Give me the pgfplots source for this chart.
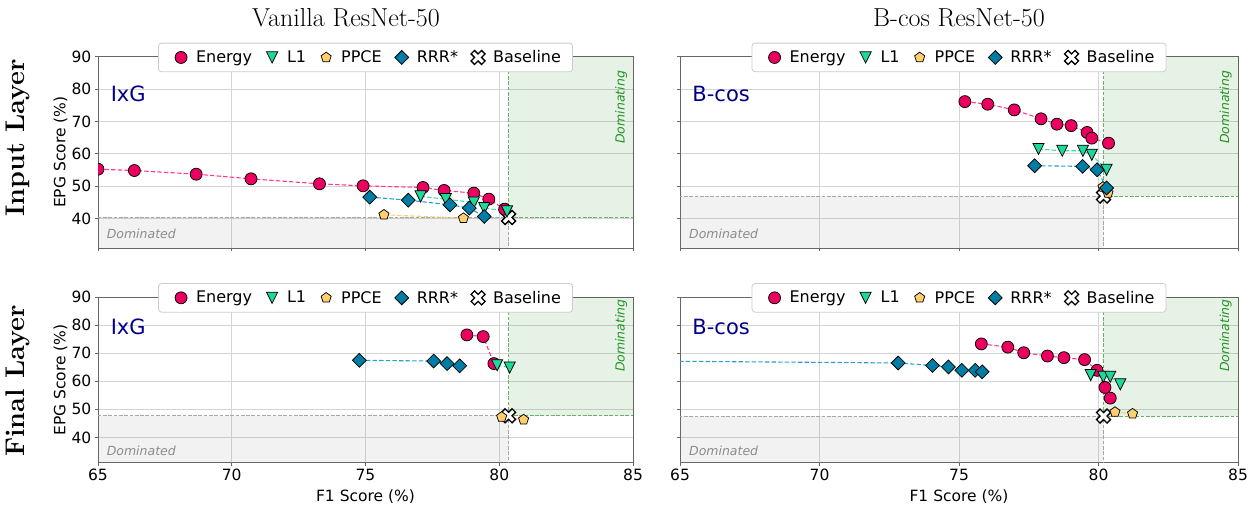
\documentclass[border=0pt]{standalone}
\usepackage{fontspec}
\usepackage{pgfplots}
\usepackage{pgfplotstable}
\pgfplotsset{compat=1.18}
\newfontfamily\dejavu{DejaVu Sans}
\definecolor{cEn}{RGB}{235,0,95}
\definecolor{cEnL}{RGB}{255,60,140}
\definecolor{cL1}{RGB}{30,215,155}
\definecolor{cL1L}{RGB}{60,220,170}
\definecolor{cPP}{RGB}{255,208,110}
\definecolor{cPPL}{RGB}{255,205,115}
\definecolor{cRR}{RGB}{0,125,165}
\definecolor{cRRL}{RGB}{40,160,205}
\definecolor{mgreen}{RGB}{0,128,0}
\definecolor{mgray}{RGB}{128,128,128}
\definecolor{navyc}{RGB}{0,0,139}

\pgfdeclareplotmark{tridown}{%
  \pgfpathmoveto{\pgfqpoint{0pt}{-\pgfplotmarksize}}%
  \pgfpathlineto{\pgfqpoint{-\pgfplotmarksize}{\pgfplotmarksize}}%
  \pgfpathlineto{\pgfqpoint{\pgfplotmarksize}{\pgfplotmarksize}}%
  \pgfpathclose
  \pgfusepathqfillstroke}
\pgfdeclareplotmark{fatx}{%
  \pgfpathmoveto{\pgfqpoint{-.5\pgfplotmarksize}{-\pgfplotmarksize}}%
  \pgfpathlineto{\pgfqpoint{0pt}{-.5\pgfplotmarksize}}%
  \pgfpathlineto{\pgfqpoint{.5\pgfplotmarksize}{-\pgfplotmarksize}}%
  \pgfpathlineto{\pgfqpoint{\pgfplotmarksize}{-.5\pgfplotmarksize}}%
  \pgfpathlineto{\pgfqpoint{.5\pgfplotmarksize}{0pt}}%
  \pgfpathlineto{\pgfqpoint{\pgfplotmarksize}{.5\pgfplotmarksize}}%
  \pgfpathlineto{\pgfqpoint{.5\pgfplotmarksize}{\pgfplotmarksize}}%
  \pgfpathlineto{\pgfqpoint{0pt}{.5\pgfplotmarksize}}%
  \pgfpathlineto{\pgfqpoint{-.5\pgfplotmarksize}{\pgfplotmarksize}}%
  \pgfpathlineto{\pgfqpoint{-\pgfplotmarksize}{.5\pgfplotmarksize}}%
  \pgfpathlineto{\pgfqpoint{-.5\pgfplotmarksize}{0pt}}%
  \pgfpathlineto{\pgfqpoint{-\pgfplotmarksize}{-.5\pgfplotmarksize}}%
  \pgfpathclose
  \pgfusepathqfillstroke}

% ---------- data: Vanilla ResNet-50, input layer ----------
\pgfplotstableread{
x y
65.00 55.28
66.36 54.87
68.67 53.74
70.72 52.31
73.28 50.77
74.91 50.15
77.15 49.64
77.94 48.72
79.05 47.90
79.61 46.05
80.20 42.97
}\tlE
\pgfplotstableread{
x y
77.06 46.90
78.00 46.05
79.05 45.00
79.44 43.30
80.29 42.26
}\tlL
\pgfplotstableread{
x y
75.69 41.23
78.66 40.20
}\tlP
\pgfplotstableread{
x y
75.16 46.67
76.60 45.74
78.16 44.30
78.88 43.30
79.44 40.70
}\tlR
\pgfplotstableread{
x y
80.35 40.40
}\tlB
% ---------- data: B-cos ResNet-50, input layer ----------
\pgfplotstableread{
x y
75.21 76.10
76.03 75.30
76.98 73.55
77.94 70.80
78.51 69.15
79.02 68.70
79.59 66.60
79.76 64.85
80.36 63.30
}\trE
\pgfplotstableread{
x y
77.85 61.50
78.70 60.95
79.44 60.95
79.76 59.70
80.29 55.10
}\trL
\pgfplotstableread{
x y
80.16 49.80
80.34 47.95
}\trP
\pgfplotstableread{
x y
77.71 56.35
79.43 56.15
79.95 55.10
80.29 49.50
}\trR
\pgfplotstableread{
x y
80.18 47.00
}\trB
% ---------- data: Vanilla ResNet-50, final layer ----------
\pgfplotstableread{
x y
78.79 76.50
79.40 75.90
79.80 66.30
}\blE
\pgfplotstableread{
x y
79.92 65.70
80.39 64.90
}\blL
\pgfplotstableread{
x y
80.09 47.30
80.91 46.35
}\blP
\pgfplotstableread{
x y
74.77 67.45
77.55 67.20
78.05 66.30
78.52 65.50
}\blR
\pgfplotstableread{
x y
80.35 47.70
}\blB
% ---------- data: B-cos ResNet-50, final layer ----------
\pgfplotstableread{
x y
75.80 73.30
76.75 72.15
77.32 70.15
78.17 68.98
78.76 68.40
79.50 67.70
79.95 63.90
80.23 57.80
80.42 54.00
}\brE
\pgfplotstableread{
x y
79.72 62.20
80.17 61.60
80.42 61.60
80.78 58.90
}\brL
\pgfplotstableread{
x y
80.59 49.05
81.22 48.45
}\brP
\pgfplotstableread{
x y
60.00 67.50
72.82 66.50
74.05 65.60
74.62 65.10
75.10 63.90
75.58 63.90
75.83 63.35
}\brR
\pgfplotstableread{
x y
80.18 47.60
}\brB

\pgfplotsset{
  lnE/.style={cEnL, line width=1.1pt, dash pattern=on 4.4pt off 2.2pt, forget plot},
  lnL/.style={cL1L, line width=1.1pt, dash pattern=on 4.4pt off 2.2pt, forget plot},
  lnP/.style={cPPL, line width=1.1pt, dash pattern=on 4.4pt off 2.2pt, forget plot},
  lnR/.style={cRRL, line width=1.1pt, dash pattern=on 4.4pt off 2.2pt, forget plot},
  mkE/.style={only marks, mark=*, mark size=6pt, mark options={solid, fill=cEn, draw=black, line width=0.75pt}},
  mkL/.style={only marks, mark=tridown, mark size=5.6pt, mark options={solid, fill=cL1, draw=black, line width=0.75pt}},
  mkP/.style={only marks, mark=pentagon*, mark size=5.3pt, mark options={solid, fill=cPP, draw=black, line width=0.75pt}},
  mkR/.style={only marks, mark=square*, mark size=4.9pt, mark options={solid, rotate=45, fill=cRR, draw=black, line width=0.75pt}},
  mkB/.style={only marks, mark=fatx, mark size=7pt, mark options={solid, fill=white, draw=black, line width=1.3pt}},
  base/.style={
    scale only axis, xmin=65, xmax=85, ymin=31, ymax=90,
    xtick={65,70,75,80,85}, ytick={40,50,60,70,80,90},
    xtick pos=lower, ytick pos=left,
    grid=major, grid style={black!17, line width=0.8pt},
    axis line style={black!60, line width=0.8pt},
    tick style={black!60, line width=0.8pt}, tick align=outside, major tick length=3.5pt,
    tick label style={font=\dejavu\fontsize{15.5}{18}\selectfont, inner sep=3pt},
    /pgf/number format/assume math mode=true,
    label style={font=\dejavu\fontsize{15.5}{18}\selectfont},
    clip marker paths=true,
    legend columns=5,
    legend image code/.code={\path[draw=none,fill=none] (-13pt,-1pt) rectangle (13pt,1pt); \draw[sharp corners,##1] plot coordinates {(0pt,0pt)};},
    legend style={at={(0.5,0.995)}, anchor=center, draw=black!20, line width=0.8pt, rounded corners=3pt,
      fill=white, inner xsep=9.5pt, inner ysep=5.5pt,
      font=\dejavu\fontsize{16}{19}\selectfont, nodes={inner sep=2pt},
      /tikz/every even column/.append style={column sep=5pt}},
  },
}

\newcommand\regions[2]{%
  \addplot[draw=none, fill=mgray, fill opacity=0.1, forget plot] coordinates {(64,30) (#1,30) (#1,#2) (64,#2)} -- cycle;
  \addplot[draw=none, fill=mgreen, fill opacity=0.1, forget plot] coordinates {(#1,#2) (86,#2) (86,91) (#1,91)} -- cycle;
  \addplot[black!35, line width=0.9pt, dash pattern=on 3.7pt off 1.6pt, forget plot] coordinates {(64,#2) (#1,#2)};
  \addplot[black!35, line width=0.9pt, dash pattern=on 3.7pt off 1.6pt, forget plot] coordinates {(#1,30) (#1,#2)};
  \addplot[mgreen!60, line width=0.9pt, dash pattern=on 3.7pt off 1.6pt, forget plot] coordinates {(#1,#2) (86,#2)};
  \addplot[mgreen!60, line width=0.9pt, dash pattern=on 3.7pt off 1.6pt, forget plot] coordinates {(#1,#2) (#1,91)};
}
\newcommand\series[5]{%
  \addplot[lnE] table {#1};
  \addplot[lnL] table {#2};
  \addplot[lnP] table {#3};
  \addplot[lnR] table {#4};
  \addplot[mkB, forget plot] table {#5};
  \addplot[mkE, forget plot] table {#1};
  \addplot[mkL, forget plot] table {#2};
  \addplot[mkP, forget plot] table {#3};
  \addplot[mkR, forget plot] table {#4};
  \addlegendimage{mkE}
  \addlegendimage{mkL}
  \addlegendimage{mkP}
  \addlegendimage{mkR}
  \addlegendimage{mkB}
  \legend{Energy, L1, PPCE, RRR*, Baseline}
}
\newcommand\domtext[1]{%
  \node[anchor=west, inner sep=0pt, text=black!45, font=\dejavu\itshape\fontsize{12.5}{15}\selectfont] at (rel axis cs:0.016,0.072) {Dominated};
  \node[rotate=90, anchor=center, inner sep=0pt, text=mgreen!85, font=\dejavu\itshape\fontsize{12.5}{15}\selectfont] at (rel axis cs:0.978,#1) {Dominating};
}

\begin{document}
\begin{tikzpicture}
\path[use as bounding box] (0,0) rectangle (1250pt,506pt);

% Top-left
\begin{axis}[base, at={(98pt,258pt)}, anchor=south west, width=535pt, height=191.5pt,
  xticklabels={}, ylabel={EPG Score (\%)},
  ylabel style={at={(axis description cs:-0.07,0.5)}, anchor=center}]
  \regions{80.35}{40.4}
  \series{\tlE}{\tlL}{\tlP}{\tlR}{\tlB}
  \domtext{0.734}
  \node[anchor=west, inner sep=0pt, text=navyc, font=\dejavu\fontsize{21}{24}\selectfont] at (rel axis cs:0.0235,0.803) {IxG};
\end{axis}

% Top-right
\begin{axis}[base, at={(680pt,258pt)}, anchor=south west, width=558pt, height=191.5pt,
  xticklabels={}, yticklabels={}]
  \regions{80.18}{47.0}
  \series{\trE}{\trL}{\trP}{\trR}{\trB}
  \domtext{0.734}
  \node[anchor=west, inner sep=0pt, text=navyc, font=\dejavu\fontsize{21}{24}\selectfont] at (rel axis cs:0.022,0.803) {B-cos};
\end{axis}

% Bottom-left
\begin{axis}[base, at={(98pt,43.3pt)}, anchor=south west, width=535pt, height=165.7pt,
  ylabel={EPG Score (\%)}, xlabel={F1 Score (\%)},
  ylabel style={at={(axis description cs:-0.07,0.5)}, anchor=center},
  xlabel style={at={(axis description cs:0.5,-0.207)}, anchor=center}]
  \regions{80.35}{47.7}
  \series{\blE}{\blL}{\blP}{\blR}{\blB}
  \domtext{0.767}
  \node[anchor=west, inner sep=0pt, text=navyc, font=\dejavu\fontsize{21}{24}\selectfont] at (rel axis cs:0.0235,0.817) {IxG};
\end{axis}

% Bottom-right
\begin{axis}[base, at={(680pt,43.3pt)}, anchor=south west, width=558pt, height=165.7pt,
  yticklabels={}, xlabel={F1 Score (\%)},
  xlabel style={at={(axis description cs:0.5,-0.207)}, anchor=center}]
  \regions{80.18}{47.6}
  \series{\brE}{\brL}{\brP}{\brR}{\brB}
  \domtext{0.767}
  \node[anchor=west, inner sep=0pt, text=navyc, font=\dejavu\fontsize{21}{24}\selectfont] at (rel axis cs:0.022,0.817) {B-cos};
\end{axis}

% Column titles
\node[anchor=base, inner sep=0pt, font=\fontsize{26}{30}\selectfont] at (346pt,479.3pt) {Vanilla ResNet-50};
\node[anchor=base, inner sep=0pt, font=\fontsize{26}{30}\selectfont] at (959pt,479.3pt) {B-cos ResNet-50};
% Row labels
\node[rotate=90, inner sep=0pt, font=\bfseries\fontsize{27}{32}\selectfont] at (18pt,368pt) {Input Layer};
\node[rotate=90, inner sep=0pt, font=\bfseries\fontsize{27}{32}\selectfont] at (18pt,125pt) {Final Layer};
\end{tikzpicture}
\end{document}
